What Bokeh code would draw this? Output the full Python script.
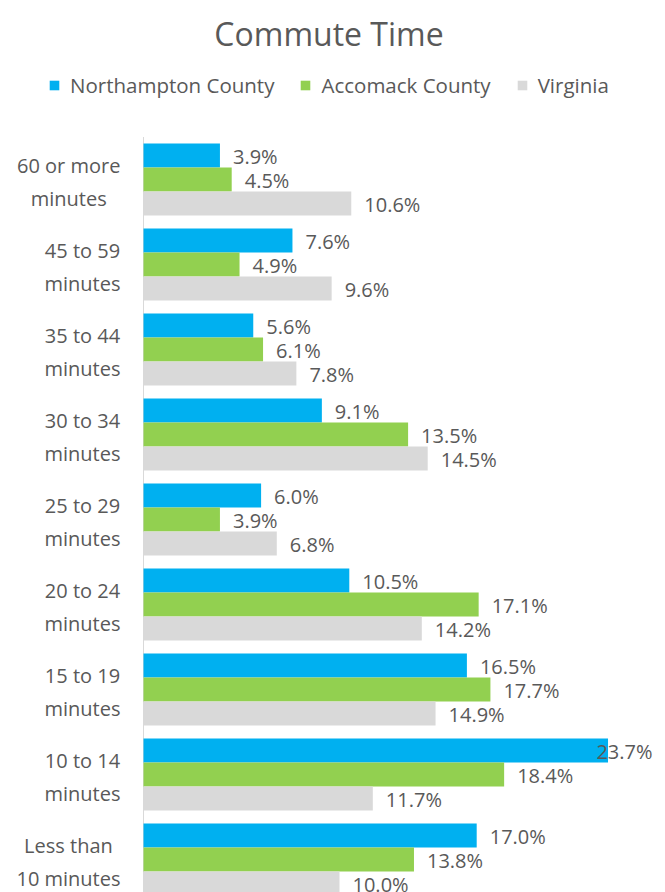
from bokeh.plotting import figure
from bokeh.models import (Range1d, ColumnDataSource, Legend, LegendItem, Label)
from bokeh.embed import file_html
from bokeh.resources import INLINE
from bokeh.core.properties import value

# ---------------- data ----------------
categories = [
    "60 or more\nminutes",
    "45 to 59\nminutes",
    "35 to 44\nminutes",
    "30 to 34\nminutes",
    "25 to 29\nminutes",
    "20 to 24\nminutes",
    "15 to 19\nminutes",
    "10 to 14\nminutes",
    "Less than\n10 minutes",
]
series_names = ["Northampton County", "Accomack County", "Virginia"]
northampton = [3.9, 7.6, 5.6, 9.1, 6.0, 10.5, 16.5, 23.7, 17.0]
accomack = [4.5, 4.9, 6.1, 13.5, 3.9, 17.1, 17.7, 18.4, 13.8]
virginia = [10.6, 9.6, 7.8, 14.5, 6.8, 14.2, 14.9, 11.7, 10.0]
series_colors = ["#00b0f0", "#92d050", "#d9d9d9"]
title_text = "Commute Time"

# ---------------- layout constants ----------------
FONT = "Open Sans"
TEXT = "#595959"
AXIS = "#d9d9d9"
W, H = 665, 892
AXIS_X = 143          # pixel of the value axis (0 %)
RIGHT = 10
PX_PER_PCT = 19.6
PITCH = 85.0          # pixels per category group
TOP_GROUP_CENTER = 179.0
n = len(categories)

x_start = -AXIS_X / PX_PER_PCT
x_end = (W - AXIS_X) / PX_PER_PCT
frame_right_val = (W - AXIS_X - RIGHT) / PX_PER_PCT
y_top = (n - 1) + TOP_GROUP_CENTER / PITCH
y_bottom = (n - 1) - (H - TOP_GROUP_CENTER) / PITCH
bar_h = 24.0 / PITCH

p = figure(width=W, height=H, x_range=Range1d(x_start, x_end),
           y_range=Range1d(y_bottom, y_top), output_backend="svg",
           toolbar_location=None, x_axis_location=None, y_axis_location=None,
           min_border=0)
p.outline_line_color = None
p.grid.visible = False
p.background_fill_color = "white"
p.border_fill_color = "white"

# category axis line
p.segment(x0=[0], y0=[y_bottom], x1=[0], y1=[(n - 1) + 0.5],
          line_color=AXIS, line_width=1)

# Open Sans advance widths (units per 2048 em) for label measurement
ADV = {" ": 532, "a": 1139, "e": 1149, "h": 1257, "i": 518, "L": 1081,
       "m": 1901, "n": 1257, "o": 1237, "r": 836, "s": 977, "t": 723,
       "u": 1257, ".": 545, "%": 1696}


def text_w(s, size):
    return sum(ADV.get(ch, 1171) for ch in s) / 2048.0 * size


# category labels: block right-aligned next to the axis, lines centred
LABEL_RIGHT = 120
cx, cy, ct = [], [], []
for i, c in enumerate(categories):
    lines = c.split("\n")
    block_w = max(text_w(ln, 20) for ln in lines)
    center_px = LABEL_RIGHT - block_w / 2.0
    g = (n - 1) - i
    for k, ln in enumerate(lines):
        dy_px = -14 if k == 0 else 19
        cx.append((center_px - AXIS_X) / PX_PER_PCT)
        cy.append(g - dy_px / PITCH)
        ct.append(ln)
p.text(x="x", y="y", text="t", source=ColumnDataSource(dict(x=cx, y=cy, t=ct)),
       text_align="center", text_baseline="middle", text_font=value(FONT),
       text_font_size="20px", text_color=TEXT)

offsets = [bar_h, 0.0, -bar_h]
all_values = [northampton, accomack, virginia]

renderers = []
for name, vals, col, off in zip(series_names, all_values, series_colors, offsets):
    ys = [(n - 1 - i) + off for i in range(n)]
    src = ColumnDataSource(dict(y=ys, v=vals))
    r = p.hbar(y="y", left=0, right="v", height=bar_h, fill_color=col,
               line_color=None, source=src)
    renderers.append(r)

    in_x, in_y, in_t, edge_y, edge_t = [], [], [], [], []
    for v, y in zip(vals, ys):
        t = f"{v:.1f}%"
        if (v - frame_right_val) * PX_PER_PCT + 13 + text_w(t, 20) > 0:
            edge_y.append(y)
            edge_t.append(t)
        else:
            in_x.append(v)
            in_y.append(y)
            in_t.append(t)
    p.text(x="x", y="y", text="t",
           source=ColumnDataSource(dict(x=in_x, y=in_y, t=in_t)),
           x_offset=13, y_offset=1, text_align="left",
           text_baseline="middle", text_font=value(FONT),
           text_font_size="20px", text_color=TEXT)
    if edge_t:
        p.text(x="x", y="y", text="t",
               source=ColumnDataSource(dict(x=[frame_right_val] * len(edge_t),
                                            y=edge_y, t=edge_t)),
               x_offset=-3, y_offset=1, text_align="right",
               text_baseline="middle", text_font=value(FONT),
               text_font_size="20px", text_color=TEXT)

legend = Legend(
    items=[LegendItem(label=nm, renderers=[r]) for nm, r in zip(series_names, renderers)],
    orientation="horizontal",
    location=(48, H - 85 - 14),
    glyph_width=12, glyph_height=12, label_standoff=10, spacing=25,
    padding=0, margin=0, border_line_color=None, background_fill_alpha=0,
    label_text_font=FONT, label_text_font_size="20.5px", label_text_color=TEXT,
)
p.add_layout(legend, "center")

p.add_layout(Label(x=328.5, y=H - 33, x_units="screen", y_units="screen",
                   text=title_text, text_align="center",
                   text_baseline="alphabetic", text_font=FONT,
                   text_font_size="32px", text_color=TEXT))

open("out.html", "w").write(file_html(p, INLINE))
